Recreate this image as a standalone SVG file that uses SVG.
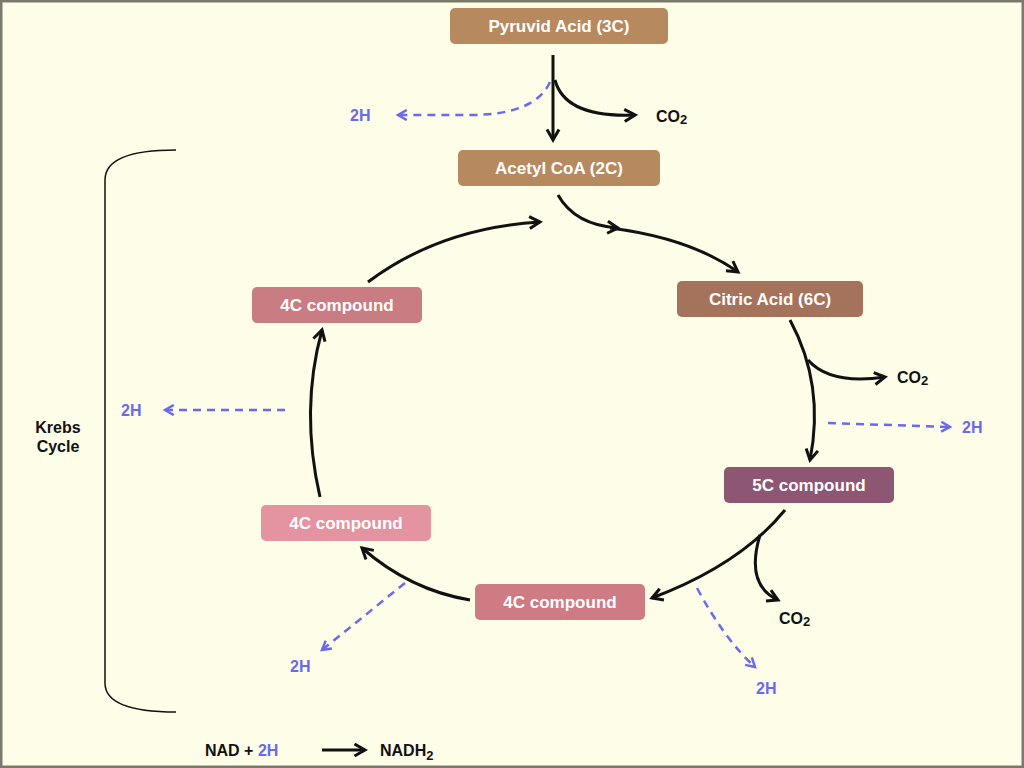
<svg xmlns="http://www.w3.org/2000/svg" width="1024" height="768" viewBox="0 0 1024 768">
<defs>
<style>
.box{stroke:none}
.t{font-family:"Liberation Sans",Arial,sans-serif;font-weight:bold;font-size:17px;fill:#fff;text-anchor:middle}
.k{font-family:"Liberation Sans",Arial,sans-serif;font-weight:bold;font-size:16px;fill:#111}
.b{font-family:"Liberation Sans",Arial,sans-serif;font-weight:bold;font-size:16px;fill:#6a6af0}
.s{fill:none;stroke:#111;stroke-width:3}
.d{fill:none;stroke:#6a6af0;stroke-width:2.5;stroke-dasharray:8 6}
</style>
<marker id="a" viewBox="0 0 10 10" refX="8" refY="5" markerWidth="5" markerHeight="5" orient="auto"><path d="M1,1 L8,5 L1,9" fill="none" stroke="#111" stroke-width="2"/></marker>
<marker id="ab" viewBox="0 0 10 10" refX="8" refY="5" markerWidth="5" markerHeight="5" orient="auto"><path d="M1,1 L8,5 L1,9" fill="none" stroke="#6a6af0" stroke-width="2"/></marker>
</defs>
<rect width="1024" height="768" fill="#fdfde8"/>
<rect x="1" y="1" width="1022" height="766" fill="none" stroke="#7a7a6a" stroke-width="3"/>
<g id="connectors">
<path class="s" d="M553,55 L553,140" marker-end="url(#a)"/>
<path class="s" d="M555,80 Q565,118 635,115" marker-end="url(#a)"/>
<path class="d" d="M550,82 Q535,115 470,115 L398,115" marker-end="url(#ab)"/>
<path class="s" d="M558,195 Q575,225 618,228" marker-end="url(#a)"/>
<path class="s" d="M610,228 Q690,238 738,272" marker-end="url(#a)"/>
<path class="s" d="M790,320 Q825,385 810,460" marker-end="url(#a)"/>
<path class="s" d="M808,360 Q830,385 885,377" marker-end="url(#a)"/>
<path class="d" d="M828,423 L950,427" marker-end="url(#ab)"/>
<path class="s" d="M785,510 Q740,565 652,598" marker-end="url(#a)"/>
<path class="s" d="M760,535 Q745,585 778,600" marker-end="url(#a)"/>
<path class="d" d="M697,588 Q725,640 755,667" marker-end="url(#ab)"/>
<path class="s" d="M470,600 Q410,590 362,548" marker-end="url(#a)"/>
<path class="d" d="M405,583 L322,650" marker-end="url(#ab)"/>
<path class="s" d="M320,497 Q300,410 322,330" marker-end="url(#a)"/>
<path class="d" d="M285,410 L165,410" marker-end="url(#ab)"/>
<path class="s" d="M368,282 Q440,228 540,222" marker-end="url(#a)"/>
<path d="M176,150 Q105,150 105,180 L105,683 Q105,712 176,712" fill="none" stroke="#111" stroke-width="1.5"/>
<path class="s" d="M322,750 L365,750" marker-end="url(#a)"/>
</g>
<g id="pyruvid"><rect class="box" x="450" y="8" width="218" height="36" rx="5" fill="#b68a5e"/><text class="t" x="559" y="32">Pyruvid Acid (3C)</text></g>
<g id="acetyl"><rect class="box" x="458" y="150" width="202" height="36" rx="5" fill="#b68a5e"/><text class="t" x="559" y="174">Acetyl CoA (2C)</text></g>
<g id="citric"><rect class="box" x="677" y="281" width="186" height="36" rx="5" fill="#a5735b"/><text class="t" x="770" y="305">Citric Acid (6C)</text></g>
<g id="c5"><rect class="box" x="724" y="467" width="170" height="36" rx="5" fill="#8d5672"/><text class="t" x="809" y="491">5C compound</text></g>
<g id="c4b"><rect class="box" x="475" y="584" width="170" height="36" rx="5" fill="#cf7b84"/><text class="t" x="560" y="608">4C compound</text></g>
<g id="c4l"><rect class="box" x="261" y="505" width="170" height="36" rx="5" fill="#e493a0"/><text class="t" x="346" y="529">4C compound</text></g>
<g id="c4u"><rect class="box" x="252" y="287" width="170" height="36" rx="5" fill="#c97c82"/><text class="t" x="337" y="311">4C compound</text></g>
<g id="labels">
<text class="k" x="656" y="122">CO<tspan font-size="13" dy="2">2</tspan></text>
<text class="b" x="350" y="121">2H</text>
<text class="k" x="897" y="383">CO<tspan font-size="13" dy="2">2</tspan></text>
<text class="b" x="962" y="433">2H</text>
<text class="k" x="779" y="624">CO<tspan font-size="13" dy="2">2</tspan></text>
<text class="b" x="756" y="694">2H</text>
<text class="b" x="290" y="672">2H</text>
<text class="b" x="121" y="416">2H</text>
<text class="k" x="58" y="433" font-size="13" text-anchor="middle">Krebs</text>
<text class="k" x="58" y="452" font-size="13" text-anchor="middle">Cycle</text>
<text class="k" x="205" y="756" font-size="17">NAD + <tspan fill="#6a6af0">2H</tspan></text>
<text class="k" x="380" y="756" font-size="17">NADH<tspan font-size="13" dy="4">2</tspan></text>
</g>
</svg>
